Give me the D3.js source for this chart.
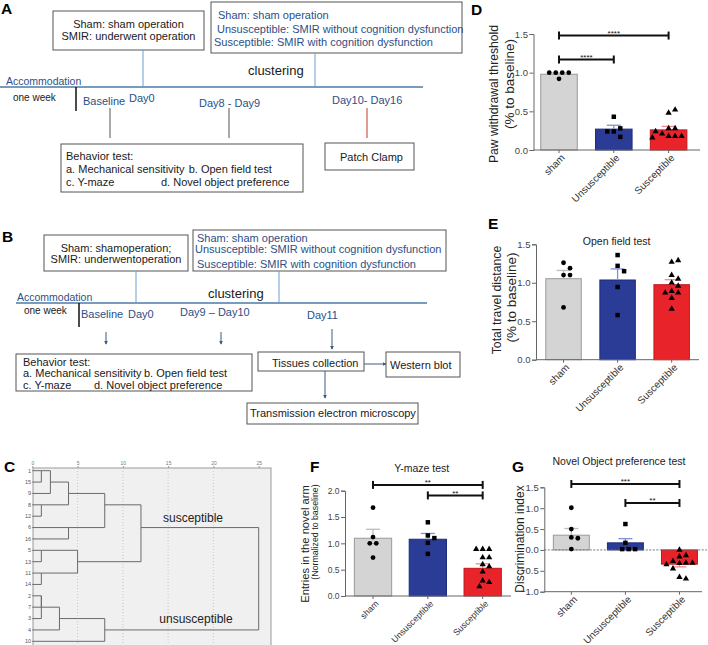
<!DOCTYPE html>
<html lang="en">
<head>
<meta charset="UTF-8">
<title>SMIR behaviour figure</title>
<script src="https://cdn.jsdelivr.net/npm/d3@7"></script>
<style>
  body { margin: 0; background: #fff; }
  svg { display: block; font-family: "Liberation Sans", Arial, sans-serif; }
</style>
</head>
<body>
<svg id="fig" width="708" height="645"></svg>
<script>
// ---------- data ----------
const groups = ["sham", "Unsusceptible", "Susceptible"];
const groupFill = ["#d4d4d4", "#2b3c97", "#e8242a"];
const groupStroke = ["#9a9a9a", "#1f2c78", "#c4161c"];
const groupErr = ["#bdbdbd", "#8090d0", "#f08a8a"];
const groupSymbol = [d3.symbolCircle, d3.symbolSquare, d3.symbolTriangle];

// D: paw withdrawal threshold
const pawMean = [0.98, 0.27, 0.26];
const pawSem = [0.015, 0.05, 0.045];
const pawPoints = [
  [0.92, 1.0, 1.0, 1.0, 1.0],
  [0.24, 0.43, 0.28, 0.24, 0.17],
  [0.48, 0.52, 0.28, 0.28, 0.18, 0.18, 0.21, 0.18, 0.24, 0.16]
];
const pawSig = [["sham", "Susceptible", 1.48, "****"], ["sham", "Unsusceptible", 1.17, "****"]];

// E: open field
const travelMean = [1.053, 1.036, 0.975];
const travelSem = [0.107, 0.144, 0.065];
const travelPoints = [
  [1.26, 1.19, 1.10, 1.10, 0.68],
  [1.36, 1.22, 1.15, 0.945, 0.58],
  [1.27, 1.29, 1.10, 1.05, 1.0, 0.96, 0.89, 0.87, 0.87, 0.80, 0.66]
];

// F: Y-maze
const ymazeMean = [1.097, 1.078, 0.526];
const ymazeSem = [0.17, 0.11, 0.085];
const ymazePoints = [
  [1.68, 1.12, 1.0, 1.0, 0.73],
  [1.40, 1.15, 1.10, 1.01, 0.80],
  [0.89, 0.89, 0.89, 0.73, 0.73, 0.60, 0.56, 0.46, 0.29, 0.26, 0.18]
];
const ymazeSig = [["sham", "Susceptible", 2.11, "**"], ["Unsusceptible", "Susceptible", 1.91, "**"]];

// G: novel object
const novelMean = [0.353, 0.17, -0.34];
const novelSem = [0.16, 0.10, 0.065];
const novelPoints = [
  [1.01, 0.50, 0.30, 0.28, 0.02],
  [0.62, 0.17, 0.02, 0.02, 0.02],
  [0.0, -0.13, -0.16, -0.27, -0.32, -0.31, -0.31, -0.35, -0.45, -0.65, -0.69]
];
const novelSig = [["sham", "Susceptible", 1.58, "***"], ["Unsusceptible", "Susceptible", 1.125, "**"]];

// C: dendrogram (leaf order top to bottom, agglomeration steps)
const dendroLeaves = ["1", "15", "9", "8", "12", "6", "16", "5", "13", "11", "14", "2", "7", "3", "4", "10"];
const dendroMerges = [
  ["1", "15", 1], ["m0", "9", 2], ["8", "12", 1], ["m1", "m2", 4], ["6", "16", 4],
  ["m3", "m4", 8], ["5", "13", 1], ["11", "14", 1], ["m6", "m7", 5], ["m5", "m8", 12],
  ["2", "7", 1], ["m10", "3", 1], ["m11", "4", 3], ["m12", "10", 8], ["m9", "m13", 25]
];
const dendroTicks = [0, 5, 10, 15, 20, 25];

// flow chart texts
const groupDefA = ["Sham: sham operation", "SMIR: underwent operation"];
const groupDefB = ["Sham: shamoperation;", "SMIR: underwentoperation"];
const clusterDefs = ["Sham: sham operation", "Unsusceptible: SMIR without cognition dysfunction", "Susceptible: SMIR with cognition dysfunction"];
const behaviorTests = ["Behavior test:", "a. Mechanical sensitivity", "b. Open field test", "c. Y-maze", "d. Novel object preference"];
const timelineA = ["Baseline", "Day0", "Day8 - Day9", "Day10- Day16"];
const timelineB = ["Baseline", "Day0", "Day9 \u2013 Day10", "Day11"];

// ---------- helpers ----------
const svg = d3.select('#fig');
svg.append('rect').attr('width', 708).attr('height', 645).attr('fill', '#fff');
const BLUE = '#2c4f86';

svg.append('defs').append('marker')
  .attr('id', 'arr').attr('viewBox', '0 0 6 6').attr('refX', 5).attr('refY', 3)
  .attr('markerWidth', 4).attr('markerHeight', 4).attr('orient', 'auto')
  .append('path').attr('d', 'M0,0L6,3L0,6Z').attr('fill', '#3d5a80');

function txt(g, x, y, s, o = {}) {
  return g.append('text').attr('x', x).attr('y', y).text(s)
    .attr('font-size', o.size || 11).attr('fill', o.fill || '#1a1a1a')
    .attr('text-anchor', o.anchor || 'start')
    .attr('font-weight', o.weight || null);
}
function seg(g, x1, y1, x2, y2, stroke, w = 1, arrow = false) {
  const l = g.append('line').attr('x1', x1).attr('y1', y1).attr('x2', x2).attr('y2', y2)
    .attr('stroke', stroke).attr('stroke-width', w);
  if (arrow) l.attr('marker-end', 'url(#arr)');
  return l;
}
function box(g, x, y, w, h) {
  g.append('rect').attr('x', x).attr('y', y).attr('width', w).attr('height', h)
    .attr('fill', '#fff').attr('stroke', '#555').attr('stroke-width', 1);
}
function panelLabel(x, y, s) {
  txt(svg, x, y, s, { size: 15.5, weight: 'bold', fill: '#000' });
}

// ---------- A: timeline ----------
const fa = svg.append('g');
box(fa, 53, 11, 151, 39);
groupDefA.forEach((s, i) => txt(fa, 128.5, 28 + i * 12.3, s, { anchor: 'middle' }));
box(fa, 211, 2, 251, 51);
[[218, 19], [217, 33], [214, 46.3]].forEach((p, i) => txt(fa, p[0], p[1], clusterDefs[i], { fill: BLUE }));
seg(fa, 143, 50, 143, 86, '#6a9fd4');
seg(fa, 315, 53, 315, 86, '#6a9fd4');
txt(fa, 248, 75, 'clustering', { size: 13 });
seg(fa, 0, 87, 423, 87, '#4b7bab', 1.5);
txt(fa, 6, 85, 'Accommodation', { size: 10.5, fill: BLUE });
txt(fa, 13, 100.7, 'one week', { size: 10 });
seg(fa, 76, 87, 76, 111, '#111', 1.5);
[[83, 105.3], [129, 102.3], [199, 107], [332, 103.6]].forEach((p, i) => txt(fa, p[0], p[1], timelineA[i], { fill: BLUE }));
seg(fa, 110, 108, 110, 138, '#555');
seg(fa, 229, 108, 229, 138, '#555');
seg(fa, 367, 108, 367, 138, '#c0392b');
box(fa, 61, 144, 242, 48);
txt(fa, 66, 160.2, behaviorTests[0]);
txt(fa, 66, 173, behaviorTests[1]);
txt(fa, 188.7, 173, behaviorTests[2]);
txt(fa, 66, 186.2, behaviorTests[3]);
txt(fa, 161, 186.2, behaviorTests[4]);
box(fa, 325, 143, 89, 27);
txt(fa, 340, 160.6, 'Patch Clamp');
panelLabel(1, 14, 'A');

// ---------- B: timeline ----------
const fb = svg.append('g');
box(fb, 44, 235, 144, 36);
groupDefB.forEach((s, i) => txt(fb, 116, 251.6 + i * 11, s, { anchor: 'middle' }));
box(fb, 193, 230, 253, 41);
[[197, 241.6], [195, 252.6], [197, 268.2]].forEach((p, i) => txt(fb, p[0], p[1], clusterDefs[i], { fill: BLUE }));
seg(fb, 136, 271, 136, 302, '#6a9fd4');
seg(fb, 279, 271, 279, 302, '#6a9fd4');
txt(fb, 208, 298, 'clustering', { size: 13 });
seg(fb, 16, 303, 427, 303, '#4b7bab', 1.5);
txt(fb, 17, 300.5, 'Accommodation', { size: 10.5, fill: BLUE });
txt(fb, 24, 314.3, 'one week', { size: 10 });
seg(fb, 79, 303, 79, 327, '#111', 1.5);
[[81, 317.5], [128, 317.5], [180, 315.5], [307, 319]].forEach((p, i) => txt(fb, p[0], p[1], timelineB[i], { fill: BLUE }));
seg(fb, 106, 332, 106, 344, '#3d5a80', 1, true);
seg(fb, 221, 332, 221, 344, '#3d5a80', 1, true);
seg(fb, 332, 329, 332, 349, '#3d5a80', 1, true);
box(fb, 16, 354, 236, 37);
txt(fb, 23, 365.5, behaviorTests[0]);
txt(fb, 23, 376.6, behaviorTests[1]);
txt(fb, 144, 376.6, behaviorTests[2]);
txt(fb, 23, 389, behaviorTests[3]);
txt(fb, 94, 389, behaviorTests[4]);
box(fb, 258, 352, 106, 19);
txt(fb, 272, 367, 'Tissues collection');
seg(fb, 364, 364, 386, 364, '#3d5a80', 1, true);
box(fb, 386, 352, 74, 25);
txt(fb, 390, 369, 'Western blot');
seg(fb, 325, 371, 325, 398, '#3d5a80', 1, true);
box(fb, 247, 403, 171, 21);
txt(fb, 250, 417, 'Transmission electron microscopy');
panelLabel(2, 242, 'B');

// ---------- C: dendrogram ----------
const fc = svg.append('g');
const dx = d3.scaleLinear().domain([0, 25]).range([32.3, 258.7]);
const dy = d3.scaleLinear().domain([0, dendroLeaves.length - 1]).range([470.7, 641.3]);
fc.append('rect').attr('x', 33).attr('y', 468).attr('width', 238).attr('height', 180)
  .attr('fill', '#f0f0f0').attr('stroke', '#999');
fc.selectAll('.grid').data(dendroTicks.slice(1, -1)).enter().append('line')
  .attr('x1', d => dx(d)).attr('x2', d => dx(d)).attr('y1', 468).attr('y2', 645)
  .attr('stroke', '#c8c8c8').attr('stroke-dasharray', '1,2');
const topAxis = fc.append('g').attr('transform', 'translate(0,468)')
  .call(d3.axisTop(dx).tickValues(dendroTicks).tickSize(2).tickPadding(1));
topAxis.select('.domain').remove();
topAxis.selectAll('line').attr('stroke', '#999');
topAxis.selectAll('text').attr('font-size', 5).attr('fill', '#777').attr('font-family', null);

const nodes = {};
dendroLeaves.forEach((l, i) => { nodes[l] = { row: i, dist: 0 }; });
dendroMerges.forEach((m, i) => {
  const a = nodes[m[0]], b = nodes[m[1]];
  const n = { row: Math.floor((a.row + b.row) / 2), dist: m[2] };
  a.parent = n; b.parent = n;
  n.kids = [a, b];
  nodes['m' + i] = n;
});
const allNodes = Object.values(nodes);
const dStroke = '#6a6a6a';
allNodes.filter(n => n.parent).forEach(n => {
  seg(fc, dx(n.dist), dy(n.row), dx(n.parent.dist), dy(n.row), dStroke, 1);
});
allNodes.filter(n => n.kids).forEach(n => {
  seg(fc, dx(n.dist), dy(n.kids[0].row), dx(n.dist), dy(n.kids[1].row), dStroke, 1);
});
fc.selectAll('.leaf').data(dendroLeaves).enter().append('text')
  .attr('x', 31).attr('y', (d, i) => dy(i)).attr('dy', '0.35em')
  .attr('text-anchor', 'end').attr('font-size', 5.5).attr('fill', '#555').text(d => d);
txt(fc, 163, 522, 'susceptible', { size: 12, fill: '#222' });
txt(fc, 159.3, 623, 'unsusceptible', { size: 12, fill: '#222' });
panelLabel(4, 472, 'C');

// ---------- bar panels ----------
function swarm(vals, y, cx, sep) {
  const placed = [];
  return vals.map(v => {
    const py = y(v);
    let px = cx;
    for (let k = 0; k < 40; k++) {
      const off = k === 0 ? 0 : (k % 2 ? 1 : -1) * Math.ceil(k / 2) * sep / 2;
      const cand = cx + off;
      if (placed.every(p => Math.hypot(p[0] - cand, p[1] - py) >= sep)) { px = cand; break; }
    }
    placed.push([px, py]);
    return [px, py];
  });
}

function barPanel(o) {
  const g = svg.append('g');
  const x = d3.scaleBand().domain(groups).range(o.band).paddingInner(o.pad).paddingOuter(o.pad / 2);
  const y = d3.scaleLinear().domain(o.domain).range(o.yRange);

  // bars
  g.selectAll('.bar').data(o.mean).enter().append('rect')
    .attr('x', (d, i) => x(groups[i]))
    .attr('width', x.bandwidth())
    .attr('y', d => Math.min(y(d), y(0)))
    .attr('height', d => Math.abs(y(d) - y(0)))
    .attr('fill', (d, i) => groupFill[i])
    .attr('stroke', (d, i) => groupStroke[i]).attr('stroke-width', 1);

  // zero line for panels that cross zero
  if (o.domain[0] < 0) {
    seg(g, o.axisX, y(0), o.xEnd + 5, y(0), '#777', 1).attr('stroke-dasharray', '2,1.5');
  }

  // error bars (one-sided, away from zero)
  o.mean.forEach((m, i) => {
    const cx = x(groups[i]) + x.bandwidth() / 2;
    const tip = m >= 0 ? m + o.sem[i] : m - o.sem[i];
    seg(g, cx, y(m), cx, y(tip), groupErr[i], 1.3);
    seg(g, cx - 7, y(tip), cx + 7, y(tip), groupErr[i], 1.3);
  });

  // points
  o.points.forEach((vals, i) => {
    const cx = x(groups[i]) + x.bandwidth() / 2;
    const pos = swarm(vals, y, cx, 6.5);
    g.selectAll(null).data(pos).enter().append('path')
      .attr('transform', p => `translate(${p[0]},${p[1]})`)
      .attr('d', d3.symbol().type(groupSymbol[i]).size(i === 0 ? 18 : i === 1 ? 20 : 17))
      .attr('fill', '#000');
  });

  // y axis
  const ya = g.append('g').attr('transform', `translate(${o.axisX},0)`)
    .call(d3.axisLeft(y).tickValues(o.ticks).tickFormat(d3.format('.1f')).tickSize(4).tickPadding(1.5));
  ya.select('.domain').attr('stroke', '#666');
  ya.selectAll('line').attr('stroke', '#666');
  ya.selectAll('text').attr('font-size', o.tickSize).attr('fill', '#444').attr('font-family', null);

  // x axis
  const xBase = y(o.domain[0]);
  seg(g, o.axisX, xBase, o.xEnd, xBase, '#666', 1);
  const xa = g.append('g').attr('transform', `translate(0,${xBase})`)
    .call(d3.axisBottom(x).tickSize(3).tickFormat(''));
  xa.select('.domain').remove();
  xa.selectAll('line').attr('stroke', '#666');
  groups.forEach((gname, i) => {
    const cx = x(gname) + x.bandwidth() / 2;
    g.append('text').attr('transform', `translate(${cx + 4},${xBase + 6}) rotate(-45)`)
      .attr('text-anchor', 'end').attr('dy', '0.35em')
      .attr('font-size', o.catSize).attr('fill', '#333').text(gname);
  });

  // significance brackets
  (o.sig || []).forEach(s => {
    const x1 = x(s[0]) + x.bandwidth() / 2, x2 = x(s[1]) + x.bandwidth() / 2, by = y(s[2]);
    seg(g, x1, by, x2, by, '#111', 2);
    seg(g, x1, by - 4, x1, by + 4, '#111', 2);
    seg(g, x2, by - 4, x2, by + 4, '#111', 2);
    txt(g, (x1 + x2) / 2, by + 0.5, s[3], { size: 8, anchor: 'middle', fill: '#111' });
  });

  // y label
  o.ylab.forEach(l => {
    g.append('text').attr('transform', `translate(${l[0]},${l[1]}) rotate(-90)`)
      .attr('text-anchor', 'middle').attr('dy', '0.35em')
      .attr('font-size', l[3]).attr('fill', '#222').text(l[2]);
  });
  if (o.title) txt(g, o.title[0], o.title[1], o.title[2], { size: 10.5, anchor: 'middle', fill: '#222' });
}

barPanel({
  band: [531.6, 696], pad: 0.333, domain: [0, 1.5], yRange: [150, 34], ticks: [0, 0.5, 1, 1.5],
  axisX: 533.5, xEnd: 700, mean: pawMean, sem: pawSem, points: pawPoints, sig: pawSig,
  tickSize: 9.5, catSize: 10,
  ylab: [[494, 94, 'Paw withdrawal threshold', 12.2], [509, 84, '(% to baseline)', 13.5]]
});
panelLabel(471, 15, 'D');

barPanel({
  band: [536.5, 698.7], pad: 0.344, domain: [0, 1.5], yRange: [359.7, 244.3], ticks: [0, 0.5, 1, 1.5],
  axisX: 536, xEnd: 699, mean: travelMean, sem: travelSem, points: travelPoints,
  tickSize: 9.5, catSize: 10,
  ylab: [[496.5, 300, 'Total travel distance', 12.3], [511.5, 297.5, '(% to baseline)', 13.5]],
  title: [616.7, 244.5, 'Open field test']
});
panelLabel(488, 229, 'E');

barPanel({
  band: [345.6, 510.1], pad: 0.32, domain: [0, 2], yRange: [596, 490.7], ticks: [0, 0.5, 1, 1.5, 2],
  axisX: 345, xEnd: 511, mean: ymazeMean, sem: ymazeSem, points: ymazePoints, sig: ymazeSig,
  tickSize: 8.5, catSize: 8.8,
  ylab: [[305, 544, 'Entries in the novel arm', 11.2], [315, 532, '(Normalized to baseline)', 8.8]],
  title: [421.7, 472, 'Y-maze test']
});
panelLabel(310, 472, 'F');

barPanel({
  band: [544.3, 706.5], pad: 0.335, domain: [-1, 1.5], yRange: [591.7, 487.3], ticks: [-1, -0.5, 0, 0.5, 1, 1.5],
  axisX: 544.3, xEnd: 702, mean: novelMean, sem: novelSem, points: novelPoints, sig: novelSig,
  tickSize: 9.5, catSize: 10,
  ylab: [[519.3, 539, 'Discrimination index', 12]],
  title: [619, 465, 'Novel Object preference test']
});
panelLabel(512, 472, 'G');
</script>
</body>
</html>
